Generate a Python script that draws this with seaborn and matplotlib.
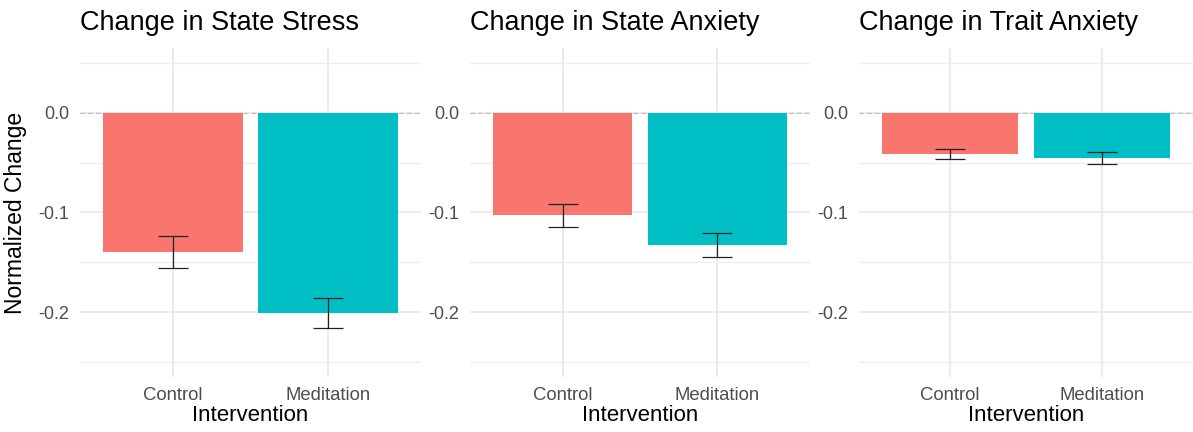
import matplotlib
matplotlib.use("Agg")
import matplotlib.pyplot as plt
from matplotlib.ticker import FixedLocator, FormatStrFormatter
import seaborn as sns
import pandas as pd

# Normalized change per intervention group (mean and standard error)
groups = ["Control", "Meditation"]
titles = ["Change in State Stress", "Change in State Anxiety", "Change in Trait Anxiety"]
stress_mean = [-0.140, -0.201]
stress_se = [0.016, 0.015]
state_anx_mean = [-0.103, -0.133]
state_anx_se = [0.0117, 0.012]
trait_anx_mean = [-0.041, -0.045]
trait_anx_se = [0.005, 0.006]

measures = [
    (stress_mean, stress_se),
    (state_anx_mean, state_anx_se),
    (trait_anx_mean, trait_anx_se),
]
palette = {"Control": "#F8766D", "Meditation": "#00BFC4"}

sns.set_theme(style="white")
plt.rcParams["font.family"] = ["Liberation Sans", "DejaVu Sans"]
plt.rcParams["axes.unicode_minus"] = False

W, H = 1193, 432
fig = plt.figure(figsize=(W / 100, H / 100), dpi=100)

# panel extents in pixels: (left, right); shared top/bottom
panels_px = [(80, 421), (470, 810), (859, 1193)]
top_px, bottom_px = 48, 377
YLIM = (-0.265, 0.065)
XLIM = (-0.6, 1.6)

for i, ((left, right), title, (means, ses)) in enumerate(zip(panels_px, titles, measures)):
    ax = fig.add_axes([left / W, 1 - bottom_px / H, (right - left) / W, (bottom_px - top_px) / H])
    df = pd.DataFrame({"Intervention": groups, "Change": means, "SE": ses})

    sns.barplot(data=df, x="Intervention", y="Change", hue="Intervention",
                palette=palette, width=0.9, dodge=False, legend=False,
                saturation=1, errorbar=None, ax=ax, zorder=2, linewidth=0)
    ax.set_xlim(*XLIM)
    ax.set_ylim(*YLIM)

    # background grid in the style of a minimal theme
    ax.yaxis.set_major_locator(FixedLocator([0.0, -0.1, -0.2]))
    ax.yaxis.set_minor_locator(FixedLocator([0.05, -0.05, -0.15, -0.25]))
    ax.yaxis.set_major_formatter(FormatStrFormatter("%.1f"))
    ax.grid(True, which="major", axis="both", color="#EBEBEB", lw=1.5, zorder=0)
    ax.grid(True, which="minor", axis="y", color="#EFEFEF", lw=1.0, zorder=0)
    ax.set_axisbelow(True)

    ax.axhline(0, color="#BDBDBD", lw=0.8, ls=(0, (4, 3)), zorder=1)

    ax.errorbar(x=range(len(groups)), y=df["Change"], yerr=df["SE"], fmt="none",
                ecolor="#222222", elinewidth=0.9, capsize=11, capthick=0.9, zorder=3)

    for s in ax.spines.values():
        s.set_visible(False)
    ax.tick_params(axis="both", which="both", length=0)
    ax.tick_params(axis="y", labelsize=13, labelcolor="#4D4D4D", pad=8)
    ax.tick_params(axis="x", labelsize=13.3, labelcolor="#4D4D4D", pad=7)

    ax.set_xlabel("Intervention", fontsize=16, color="black", labelpad=1)
    if i == 0:
        ax.set_ylabel("Normalized Change", fontsize=16.5, color="black", labelpad=8)
    else:
        ax.set_ylabel("")

    ax.set_title(title, loc="left", fontsize=19.5, color="black", pad=13)

fig.savefig("out.png", dpi=100, facecolor="white")
